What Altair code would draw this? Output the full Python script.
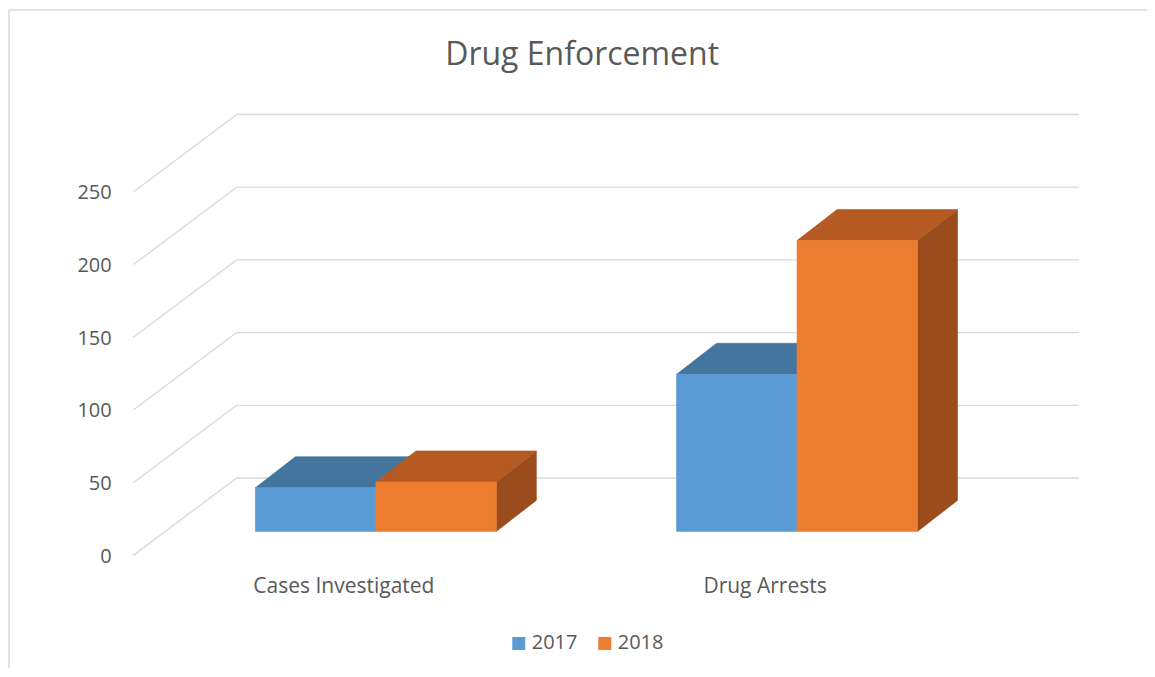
import altair as alt
import pandas as pd

# ---------------- data ----------------
categories = ["Cases Investigated", "Drug Arrests"]
series = ["2017", "2018"]
values_2017 = [30, 108]
values_2018 = [34, 200]
y_ticks = [0, 50, 100, 150, 200, 250]
chart_title = "Drug Enforcement"

# ---------------- styling / geometry (oblique 3-D look) ----------------
FONT = "Open Sans"
TEXT_COLOR = "#595959"
GRID_COLOR = "#D9D9D9"
front_colors = ["#5B9BD5", "#ED7D31"]
top_colors = ["#44759F", "#B55A22"]
side_colors = ["#3E6A92", "#9A4C1C"]

PX_CAT = 421.2          # pixels per category band (front plane)
PX_VAL = 1.454          # pixels per value unit
WALL_DX = 103.4 / PX_CAT
WALL_DY = 77.4 / PX_VAL
BAR_X0 = 32.0 / PX_CAT
BAR_Y0 = 24.0 / PX_VAL
BAR_DX = 40.0 / PX_CAT
BAR_DY = 31.0 / PX_VAL
GROUP_W = 241.0 / PX_CAT

X_MAX = len(categories) + WALL_DX
Y_MAX = max(y_ticks) + WALL_DY
W = X_MAX * PX_CAT
H = Y_MAX * PX_VAL

xs = alt.Scale(domain=[0, X_MAX], nice=False, zero=False)
ys = alt.Scale(domain=[0, Y_MAX], nice=False, zero=False)
noax = None

# ---------------- build tables from the arrays ----------------
vals = {"2017": values_2017, "2018": values_2018}
front_rows, top_rows, side_rows = [], [], []
for i, cat in enumerate(categories):
    for j, s in enumerate(series):
        v = vals[s][i]
        bw = GROUP_W / len(series)
        x0 = i + 0.5 - GROUP_W / 2 + j * bw + BAR_X0
        x1 = x0 + bw
        bid = f"{cat}-{s}"
        front_rows.append(dict(bar=bid, year=s, x=x0, x2=x1, y=BAR_Y0, y2=BAR_Y0 + v))
        top_rows.append(dict(bar=bid, c=top_colors[j], y=BAR_Y0 + v, x=x0, x2=x1))
        top_rows.append(dict(bar=bid, c=top_colors[j], y=BAR_Y0 + v + BAR_DY,
                             x=x0 + BAR_DX, x2=x1 + BAR_DX))
        side_rows.append(dict(bar=bid, c=side_colors[j], x=x1, y=BAR_Y0, y2=BAR_Y0 + v))
        side_rows.append(dict(bar=bid, c=side_colors[j], x=x1 + BAR_DX,
                              y=BAR_Y0 + BAR_DY, y2=BAR_Y0 + BAR_DY + v))

front_df = pd.DataFrame(front_rows)
top_df = pd.DataFrame(top_rows)
side_df = pd.DataFrame(side_rows)

grid_df = pd.DataFrame({"v": y_ticks})
grid_df["vb"] = grid_df["v"] + WALL_DY
grid_df["x0"] = 0.0
grid_df["xb"] = WALL_DX
grid_df["xe"] = len(categories) + WALL_DX

cat_df = pd.DataFrame({"cat": categories, "x": [i + 0.5 for i in range(len(categories))], "y": 0.0})
title_df = pd.DataFrame({"t": [chart_title]})

# ---------------- layers ----------------
diag = alt.Chart(grid_df).mark_rule(color=GRID_COLOR, strokeWidth=1.3).encode(
    x=alt.X("x0:Q", scale=xs, axis=noax), x2="xb:Q",
    y=alt.Y("v:Q", scale=ys, axis=noax), y2="vb:Q")

back = alt.Chart(grid_df).mark_rule(color=GRID_COLOR, strokeWidth=1.3).encode(
    x=alt.X("xb:Q", scale=xs, axis=noax), x2="xe:Q",
    y=alt.Y("vb:Q", scale=ys, axis=noax))

ylabels = alt.Chart(grid_df).mark_text(
    align="right", baseline="middle", dx=-21.6, dy=1.5, font=FONT, fontSize=20,
    color=TEXT_COLOR).encode(
    x=alt.X("x0:Q", scale=xs, axis=noax),
    y=alt.Y("v:Q", scale=ys, axis=noax),
    text=alt.Text("v:Q"))

side = alt.Chart(side_df).mark_area(orient="vertical", strokeWidth=0.6).encode(
    x=alt.X("x:Q", scale=xs, axis=noax),
    y=alt.Y("y:Q", scale=ys, axis=noax), y2="y2:Q",
    detail="bar:N",
    color=alt.Color("c:N", scale=None),
    stroke=alt.Stroke("c:N", scale=None))

top = alt.Chart(top_df).mark_area(orient="horizontal", strokeWidth=0.6).encode(
    y=alt.Y("y:Q", scale=ys, axis=noax),
    x=alt.X("x:Q", scale=xs, axis=noax), x2="x2:Q",
    detail="bar:N",
    color=alt.Color("c:N", scale=None),
    stroke=alt.Stroke("c:N", scale=None))

front = alt.Chart(front_df).mark_rect(strokeWidth=0.6).encode(
    x=alt.X("x:Q", scale=xs, axis=noax), x2="x2:Q",
    y=alt.Y("y:Q", scale=ys, axis=noax), y2="y2:Q",
    color=alt.Color("year:N", scale=alt.Scale(domain=series, range=front_colors),
                    legend=alt.Legend(title=None, orient="none", direction="horizontal",
                                      legendX=375.5, legendY=519,
                                      symbolType="square", symbolSize=169,
                                      symbolStrokeWidth=0, labelFont=FONT,
                                      labelFontSize=20, labelColor=TEXT_COLOR,
                                      labelOffset=3, columnPadding=17)),
    stroke=alt.Stroke("year:N", scale=alt.Scale(domain=series, range=front_colors), legend=None))

catlabels = alt.Chart(cat_df).mark_text(
    baseline="middle", dy=32, font=FONT, fontSize=21, color=TEXT_COLOR).encode(
    x=alt.X("x:Q", scale=xs, axis=noax),
    y=alt.Y("y:Q", scale=ys, axis=noax),
    text="cat:N")

title = alt.Chart(title_df).mark_text(
    align="center", baseline="alphabetic", font=FONT, fontSize=32,
    color=TEXT_COLOR).encode(
    x=alt.value(W / 2 - 24), y=alt.value(-49.5), text="t:N")

one = pd.DataFrame({"a": [0]})
frame_top = alt.Chart(one).mark_rule(color=GRID_COLOR, strokeWidth=1.5).encode(
    x=alt.value(-124.3), x2=alt.value(W + 80), y=alt.value(-104.5))
frame_left = alt.Chart(one).mark_rule(color=GRID_COLOR, strokeWidth=1.5).encode(
    x=alt.value(-124.3), y=alt.value(-104.5), y2=alt.value(H + 130))

chart = alt.layer(
    frame_top, frame_left, diag, back, side, top, front, ylabels, catlabels, title
).resolve_scale(color="independent", stroke="independent").properties(
    width=W, height=H,
    background="white",
    autosize=alt.AutoSizeParams(type="none"),
    padding={"left": 125.3, "top": 106.5, "right": 68, "bottom": 113},
).configure_view(strokeWidth=0, stroke=None)

chart.save("out.html", embed_options={"renderer": "svg", "actions": False})
